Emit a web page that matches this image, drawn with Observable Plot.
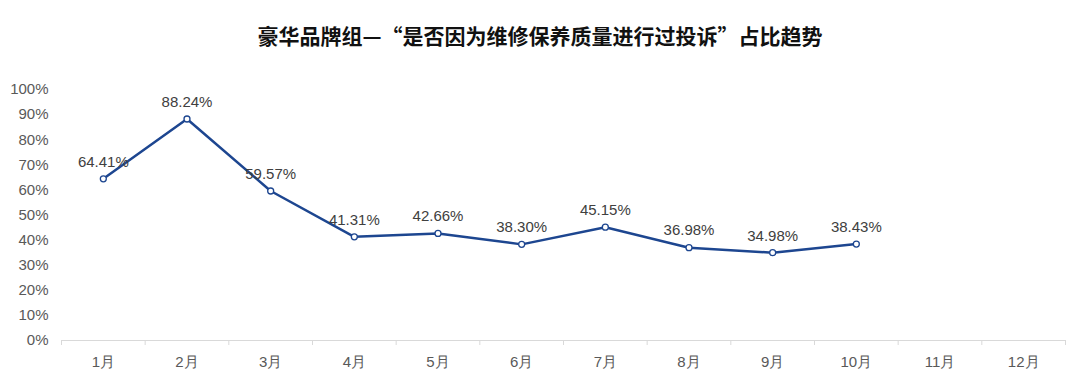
<!DOCTYPE html>
<html>
<head>
<meta charset="utf-8">
<script src="https://cdn.jsdelivr.net/npm/d3@7"></script>
<script src="https://cdn.jsdelivr.net/npm/@observablehq/plot@0.6"></script>
<style>
  html, body { margin: 0; padding: 0; background: #fff; }
  #title { height: 70px; line-height: 70px; text-align: center; font-family: "Noto Sans CJK SC", sans-serif; font-weight: bold; font-size: 21px; color: #111; }
  #chart svg { display: block; }
</style>
</head>
<body>
<div id="title">豪华品牌组—“是否因为维修保养质量进行过投诉”占比趋势</div>
<div id="chart"></div>
<script>
const months = ["1月","2月","3月","4月","5月","6月","7月","8月","9月","10月","11月","12月"];
const dataMonths = ["1月","2月","3月","4月","5月","6月","7月","8月","9月","10月"];
const values = [64.41, 88.24, 59.57, 41.31, 42.66, 38.30, 45.15, 36.98, 34.98, 38.43];
const yTicks = [0,10,20,30,40,50,60,70,80,90,100];

const data = dataMonths.map((m, i) => ({month: m, value: values[i]}));
const lineColor = "#1d4690";
const W = 1080, ML = 61, MR = 15;
const half = (W - ML - MR) / 24;

const chart = Plot.plot({
  width: W,
  height: 320,
  marginTop: 19,
  marginBottom: 50,
  marginLeft: ML,
  marginRight: MR,
  style: {fontFamily: "Liberation Sans, Arial, sans-serif", fontSize: "15px", color: "#595959"},
  x: {type: "band", domain: months, padding: 0, round: false, label: null},
  y: {domain: [0, 100], label: null},
  marks: [
    Plot.axisY({ticks: yTicks, tickFormat: d => d + "%", tickSize: 0, tickPadding: 13, fontSize: 15, fill: "#595959", label: null}),
    Plot.axisX({tickSize: 0, tickPadding: 16, fontSize: 15, fill: "#595959", label: null}),
    Plot.ruleY([0], {stroke: "#d9d9d9", strokeWidth: 1}),
    Plot.ruleX(months, {x: d => d, y1: 0, y2: -2, dx: -half, stroke: "#d9d9d9"}),
    Plot.ruleX([months[11]], {x: d => d, y1: 0, y2: -2, dx: half, stroke: "#d9d9d9"}),
    Plot.line(data, {x: "month", y: "value", stroke: lineColor, strokeWidth: 2.5}),
    Plot.dot(data, {x: "month", y: "value", r: 3, fill: "#fff", stroke: lineColor, strokeWidth: 1.3}),
    Plot.text(data, {x: "month", y: "value", text: d => d.value.toFixed(2) + "%", dy: -17, fontSize: 15, fill: "#404040"})
  ]
});
document.getElementById("chart").appendChild(chart);
</script>
</body>
</html>
